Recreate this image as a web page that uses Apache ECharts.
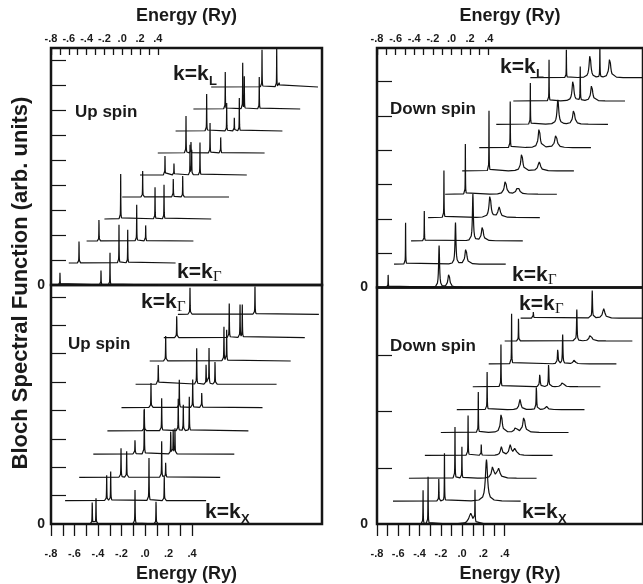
<!DOCTYPE html>
<html><head><meta charset="utf-8">
<script src="https://cdn.jsdelivr.net/npm/echarts@6/dist/echarts.min.js"></script>
<style>html,body{margin:0;padding:0;background:#fff}#c{width:643px;height:584px}</style>
</head><body><div id="c"></div>
<script>
// Tick values / labels (energy in Ry)
const energyTicks = [-0.8,-0.7,-0.6,-0.5,-0.4,-0.3,-0.2,-0.1,0,0.1,0.2,0.3,0.4];
const energyLabels = [-0.8,-0.6,-0.4,-0.2,0,0.2,0.4];
const spectrumRange = [-0.8, 0.4];

// Peaks of each Bloch spectral function: [energy (Ry), height (arb.), half-width (Ry, 0 = sharp)]
// Upper-left: up spin, index 0 = k_Gamma ... index 9 = k_L
const upGL = [
  [[-0.699,0.53,0],[-0.238,0.63,0],[-0.137,1.29,0]],
  [[-0.685,0.94,0],[-0.236,1.53,0],[-0.138,1.33,0]],
  [[-0.661,0.92,0],[-0.237,1.45,0],[-0.136,0.68,0]],
  [[-0.617,1.80,0],[-0.231,1.27,0],[-0.130,1.37,0]],
  [[-0.570,1.04,0],[-0.226,0.78,0],[-0.120,0.91,0]],
  [[-0.519,0.83,0],[-0.418,0.50,0],[-0.238,1.20,0],[-0.219,1.00,0],[-0.126,1.30,0]],
  [[-0.483,1.48,0],[-0.427,0.48,0],[-0.213,1.20,0],[-0.093,0.68,0]],
  [[-0.451,1.48,0],[-0.226,1.12,0],[-0.140,0.58,0],[-0.084,1.32,0]],
  [[-0.442,1.48,0],[-0.246,1.84,0],[-0.228,1.30,0],[-0.060,1.28,0]],
  [[-0.229,1.49,0],[-0.064,1.56,0],[-0.035,0.23,0]]
];
// Lower-left: up spin, index 0 = k_X ... index 9 = k_Gamma
const upXG = [
  [[-0.449,0.82,0],[-0.417,0.90,0],[-0.085,1.20,0],[0.094,0.85,0]],
  [[-0.446,0.89,0],[-0.412,1.03,0],[-0.086,1.50,0],[0.044,0.86,0]],
  [[-0.444,1.03,0],[-0.396,0.92,0],[-0.098,1.27,0],[-0.064,0.56,0]],
  [[-0.445,0.53,0],[-0.366,1.60,0],[-0.141,0.85,0],[-0.120,0.85,0],[-0.105,0.90,0]],
  [[-0.486,0.80,0],[-0.338,1.15,0],[-0.197,1.13,0],[-0.154,0.92,0],[-0.103,1.20,0]],
  [[-0.549,0.86,0],[-0.308,0.98,0],[-0.194,0.99,0],[-0.117,0.56,0]],
  [[-0.607,0.74,0],[-0.280,1.27,0],[-0.200,0.74,0],[-0.175,1.27,0],[-0.124,0.85,0]],
  [[-0.664,0.88,0],[-0.168,1.20,0],[-0.145,1.09,0]],
  [[-0.690,0.82,0],[-0.243,1.20,0],[-0.151,1.16,0],[-0.132,1.16,0]],
  [[-0.697,0.94,0],[-0.144,0.98,0]]
];
// Upper-right: down spin, index 0 = k_Gamma ... index 9 = k_L
const downGL = [
  [[-0.680,0.40,0],[-0.133,1.22,0.006],[-0.028,0.40,0.012]],
  [[-0.676,1.21,0],[-0.140,1.21,0.006],[-0.028,0.46,0.012]],
  [[-0.658,0.87,0],[-0.136,1.36,0.006],[-0.034,0.42,0.012]],
  [[-0.630,1.37,0],[-0.135,0.66,0.012],[-0.037,0.30,0.015]],
  [[-0.583,1.46,0],[-0.153,0.39,0.014],[-0.019,0.22,0.018]],
  [[-0.512,1.75,0],[-0.160,0.52,0.012],[0.028,0.26,0.016]],
  [[-0.467,1.34,0],[-0.156,0.57,0.012],[0.024,0.37,0.015]],
  [[-0.434,1.20,0],[-0.138,0.71,0.011],[0.032,0.42,0.013]],
  [[-0.416,1.20,0],[-0.159,0.61,0.011],[-0.081,0.99,0.002],[0.042,0.47,0.012]],
  [[-0.413,0.81,0],[-0.159,0.68,0.011],[-0.053,0.86,0.002],[0.053,0.57,0.012]]
];
// Lower-right: down spin, index 0 = k_X ... index 9 = k_Gamma
const downXG = [
  [[-0.367,0.60,0],[-0.320,0.84,0],[0.081,0.19,0.020],[0.121,0.57,0]],
  [[-0.369,0.43,0],[-0.316,0.85,0],[0.079,0.74,0.012]],
  [[-0.367,0.91,0],[-0.302,0.56,0],[-0.012,0.21,0.012],[0.043,0.17,0.014]],
  [[-0.394,0.71,0],[-0.270,0.21,0],[-0.081,0.15,0.010],[0.002,0.18,0.012],[0.048,0.12,0.014]],
  [[-0.448,0.72,0],[-0.232,0.34,0.010],[-0.096,0.10,0.012],[-0.019,0.28,0.012]],
  [[-0.515,0.67,0],[-0.206,0.18,0.010],[-0.052,0.43,0.003],[0.041,0.06,0.012]],
  [[-0.535,0.75,0],[-0.170,0.23,0.004],[-0.087,0.42,0.003],[0.045,0.09,0.012]],
  [[-0.585,0.89,0],[-0.151,0.27,0.004],[-0.105,0.52,0.003],[0.004,0.07,0.012]],
  [[-0.670,0.43,0],[-0.122,0.56,0.003],[0.007,0.13,0.012]],
  [[-0.680,0.15,0],[-0.127,0.49,0.003],[-0.019,0.17,0.012]]
];

// ---------- presentation ----------
const FONT = '"Liberation Sans", Arial, Helvetica, sans-serif';
const panels = [
  {peaks: upGL,   grid:{left:51, top:48,    width:271, height:237},   xScale:89,    yUnit:25,    dx:0.200, dy:0.88,  xPos:'top'},
  {peaks: upXG,   grid:{left:51, top:285,   width:271, height:239},   xScale:117.5, yUnit:28.4,  dx:0.120, dy:0.82,  xPos:'bottom'},
  {peaks: downGL, grid:{left:377,top:48,    width:270, height:239.5}, xScale:94.5,  yUnit:34.33, dx:0.183, dy:0.679, xPos:'top'},
  {peaks: downXG, grid:{left:377,top:287.5, width:270, height:236.5}, xScale:108,   yUnit:56.2,  dx:0.150, dy:0.407, xPos:'bottom'}
];
const SPIKE = 0.0015;
const SAMPLE = [-12,-6,-3,-2,-1.4,-1,-0.6,-0.3,0,0.3,0.6,1,1.4,2,3,6,12];

function spectrum(peaks){
  const es = [spectrumRange[0], spectrumRange[1]];
  peaks.forEach(p => { const w = p[2] || SPIKE; SAMPLE.forEach(t => { const e = p[0] + t*w; if (e > spectrumRange[0] && e < spectrumRange[1]) es.push(e); }); });
  es.sort((a,b)=>a-b);
  return es.map(e => [e, peaks.reduce((s,p)=>{const w=p[2]||SPIKE; const u=(e-p[0])/w; return s + p[1]/(1+u*u);},0)]);
}
function fmt(v){ const d = Math.round(Math.abs(v)*10); return (v < -1e-9 ? '-.' : '.') + d; }

const grids=[], xAxes=[], yAxes=[], series=[];
panels.forEach((P,gi)=>{
  grids.push(Object.assign({show:true, borderColor:'#151515', borderWidth:2.5, backgroundColor:'transparent'}, P.grid));
  const xmax = -0.8 + P.grid.width / P.xScale;
  const ymax = P.grid.height / P.yUnit;
  const top = P.xPos === 'top';
  xAxes.push({gridIndex:gi, type:'value', position:P.xPos, min:-0.8, max:xmax,
    axisLine:{show:false, onZero:false}, splitLine:{show:false},
    axisTick:{show:true, inside:top, length: top?7:12, customValues:energyTicks, lineStyle:{color:'#151515', width:1.3}},
    axisLabel:{show:true, customValues:energyLabels, formatter:fmt, margin: top?4:24, fontFamily:FONT, fontWeight:'bold', fontSize:11, color:'#1a1a1a'},
    name:'Energy (Ry)', nameLocation:'middle', nameGap: top?23:41,
    nameTextStyle:{fontFamily:FONT, fontWeight:'bold', fontSize:18, color:'#1a1a1a'}});
  const yt=[]; for(let k=1;k<ymax-0.3;k++) yt.push(k);
  yAxes.push({gridIndex:gi, type:'value', min:0, max:ymax,
    axisLine:{show:false, onZero:false}, splitLine:{show:false},
    axisTick:{show:true, inside:true, length:15, customValues:yt, lineStyle:{color:'#151515', width:1.2}},
    axisLabel:{show:true, customValues:[0], formatter:()=> '0', margin: gi<2?6:9, fontFamily:FONT, fontWeight:'bold', fontSize:14, color:'#1a1a1a'}});
  P.peaks.forEach((pk,i)=>{
    series.push({type:'line', xAxisIndex:gi, yAxisIndex:gi, showSymbol:false, silent:true, animation:false, clip:true,
      lineStyle:{color:'#111', width:1.2}, z:3,
      data: spectrum(pk).map(d=>[d[0] + i*P.dx, d[1] + i*P.dy])});
  });
});

function txt(x,y,s,size,opt){ return Object.assign({type:'text', x:x, y:y, z:10, style:{text:s, font:'bold '+size+'px '+FONT, fill:'#1a1a1a', textVerticalAlign:'middle'}}, opt||{}); }
// x = left, b = text baseline
function klabel(x,b,sub,serif){
  return [txt(x,b-7.3,'k=k',21),
    serif ? {type:'text', x:x+36, y:b-3, z:10, style:{text:sub, font:'15px "Liberation Serif", "DejaVu Serif", serif', fill:'#1a1a1a', textVerticalAlign:'middle'}}
          : txt(x+36,b-1,sub,13)];
}
const graphics = [].concat(
  klabel(173,82,'L',false), klabel(177,280,'Γ',true),
  klabel(141,310,'Γ',true), klabel(205,520,'X',false),
  klabel(500,75,'L',false), klabel(512,283,'Γ',true),
  klabel(519,312,'Γ',true), klabel(522,520,'X',false),
  [txt(75,112,'Up spin',17), txt(68,344,'Up spin',17), txt(390,109,'Down spin',17), txt(390,346,'Down spin',17),
   {type:'text', x:21, y:283, rotation:Math.PI/2, z:10, style:{text:'Bloch Spectral Function (arb. units)', font:'bold 22px '+FONT, fill:'#1a1a1a', textAlign:'center', textVerticalAlign:'middle'}}]
);

const chart = echarts.init(document.getElementById('c'), null, {renderer:'canvas'});
chart.setOption({animation:false, backgroundColor:'#fff', grid:grids, xAxis:xAxes, yAxis:yAxes, series:series, graphic:graphics});
</script></body></html>
